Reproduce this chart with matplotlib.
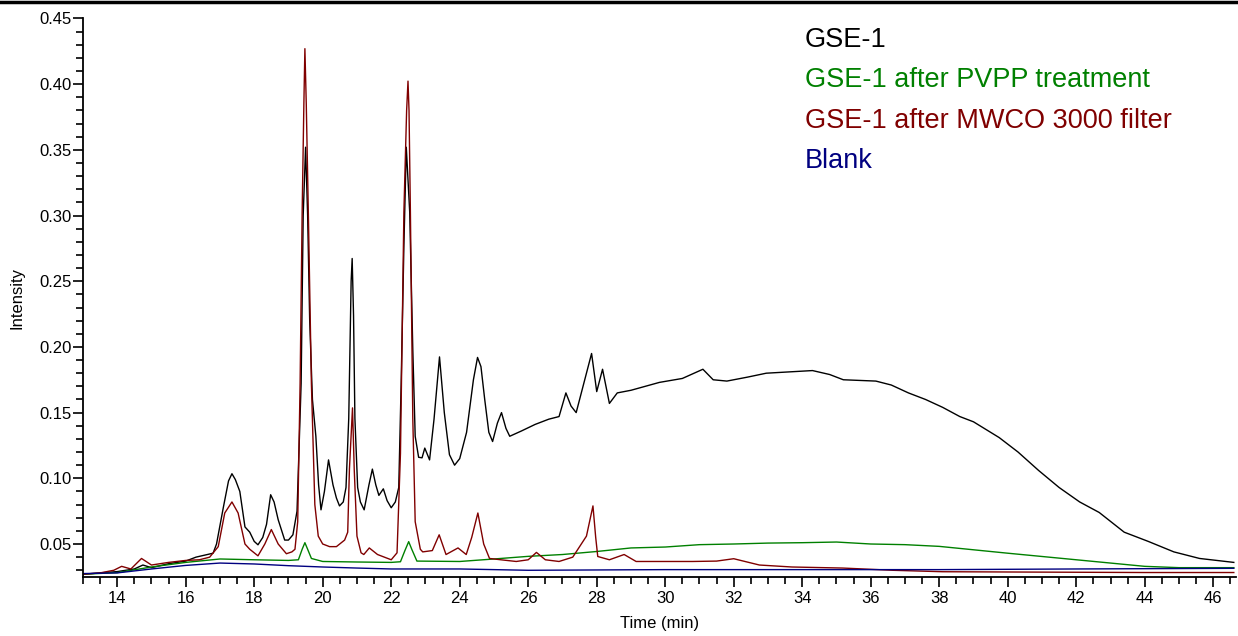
import matplotlib.pyplot as plt
from matplotlib.lines import Line2D
from matplotlib.ticker import MultipleLocator

plt.rcParams['font.family'] = ['Liberation Sans', 'DejaVu Sans']

# GSE-1 (black)
gse_t = [13.0, 13.5, 14.0, 14.5, 14.75, 15.0, 15.5, 16.0, 16.3, 16.8, 16.9, 17.1, 17.25, 17.35, 17.45,
         17.58, 17.73, 17.87, 18.0, 18.11, 18.25, 18.36, 18.48, 18.58, 18.7, 18.89, 19.0, 19.13, 19.25,
         19.37, 19.43, 19.5, 19.56, 19.62, 19.7, 19.8, 19.88, 19.95, 20.05, 20.17, 20.3, 20.4, 20.49,
         20.6, 20.68, 20.76, 20.83, 20.86, 20.9, 20.94, 21.02, 21.1, 21.21, 21.35, 21.45, 21.55, 21.64,
         21.77, 21.88, 22.0, 22.12, 22.22, 22.29, 22.37, 22.44, 22.54, 22.63, 22.7, 22.75, 22.8, 22.9,
         22.98, 23.12, 23.25, 23.41, 23.55, 23.7, 23.85, 24.0, 24.2, 24.4, 24.52, 24.62, 24.73, 24.85,
         24.96, 25.1, 25.22, 25.35, 25.46, 25.8, 26.2, 26.6, 26.9, 27.1, 27.25, 27.4, 27.6, 27.85, 28.0,
         28.17, 28.37, 28.6, 29.0, 29.83, 30.5, 31.1, 31.4, 31.8, 32.4, 32.95, 33.6, 34.3, 34.8, 35.2,
         36.15, 36.6, 37.1, 37.6, 38.1, 38.6, 39.0, 39.75, 40.3, 40.9, 41.5, 42.1, 42.67, 42.96, 43.4,
         44.1, 44.85, 45.6, 46.6]
gse_v = [0.027, 0.028, 0.029, 0.031, 0.034, 0.032, 0.035, 0.037, 0.040, 0.043, 0.050, 0.078, 0.098, 0.1035, 0.099,
         0.090, 0.063, 0.059, 0.052, 0.0494, 0.055, 0.065, 0.0875, 0.082, 0.0685, 0.053, 0.053, 0.057, 0.075,
         0.172, 0.30, 0.352, 0.30, 0.22, 0.16, 0.132, 0.095, 0.076, 0.09, 0.114, 0.095, 0.085, 0.079,
         0.082, 0.093, 0.1456, 0.25, 0.2673, 0.224, 0.1456, 0.093, 0.082, 0.076, 0.095, 0.107, 0.095, 0.087,
         0.092, 0.083, 0.0776, 0.082, 0.093, 0.172, 0.2765, 0.352, 0.3026, 0.198, 0.132, 0.124, 0.116, 0.1156,
         0.123, 0.114, 0.145, 0.1924, 0.15, 0.118, 0.110, 0.115, 0.135, 0.175, 0.192, 0.185, 0.16, 0.135,
         0.128, 0.142, 0.150, 0.138, 0.132, 0.136, 0.141, 0.145, 0.147, 0.165, 0.155, 0.150, 0.17, 0.195, 0.166,
         0.183, 0.157, 0.165, 0.167, 0.173, 0.176, 0.183, 0.175, 0.174, 0.177, 0.180, 0.181, 0.182, 0.179, 0.175,
         0.174, 0.171, 0.165, 0.160, 0.154, 0.147, 0.143, 0.131, 0.120, 0.106, 0.093, 0.082, 0.074, 0.068, 0.059,
         0.052, 0.044, 0.039, 0.036]

# GSE-1 after PVPP treatment (green)
pvpp_t = [13.0, 14.0, 15.0, 16.0, 17.0, 18.0, 19.0, 19.29, 19.4, 19.48, 19.56, 19.67, 20.0, 21.0, 22.0,
          22.27, 22.4, 22.51, 22.6, 22.75, 24.0, 25.0, 26.0, 27.0, 28.0, 29.0, 30.0, 31.0, 32.0, 33.0,
          34.0, 35.0, 36.0, 37.0, 38.0, 40.0, 42.0, 43.0, 44.0, 45.0, 46.6]
pvpp_v = [0.027, 0.0282, 0.0325, 0.036, 0.0386, 0.038, 0.0375, 0.038, 0.046, 0.051, 0.046, 0.039, 0.0367, 0.0363, 0.036,
          0.0365, 0.045, 0.0518, 0.046, 0.037, 0.0367, 0.0386, 0.0406, 0.042, 0.0443, 0.047, 0.0477, 0.0495, 0.050, 0.0507,
          0.051, 0.0515, 0.050, 0.0495, 0.0482, 0.043, 0.038, 0.0355, 0.033, 0.032, 0.032]

# GSE-1 after MWCO 3000 filter (dark red)
mwco_t = [13.0, 13.5, 13.9, 14.13, 14.4, 14.71, 15.0, 15.5, 16.0, 16.4, 16.7, 16.95, 17.14, 17.35, 17.53,
          17.73, 17.87, 18.11, 18.31, 18.5, 18.7, 18.94, 19.1, 19.19, 19.27, 19.34, 19.4, 19.45, 19.48,
          19.52, 19.58, 19.67, 19.77, 19.87, 20.0, 20.2, 20.4, 20.64, 20.73, 20.78, 20.87, 20.92, 21.0,
          21.12, 21.2, 21.36, 21.6, 22.0, 22.17, 22.27, 22.37, 22.45, 22.49, 22.52, 22.56, 22.63, 22.7,
          22.85, 22.92, 23.2, 23.4, 23.6, 23.95, 24.19, 24.35, 24.53, 24.7, 24.87, 25.2, 25.65, 26.0,
          26.24, 26.5, 26.9, 27.3, 27.7, 27.89, 27.97, 28.03, 28.37, 28.8, 29.15, 29.83, 30.8, 31.5,
          32.0, 32.75, 33.7, 35.18, 36.64, 38.1, 40.0, 42.0, 44.0, 46.6]
mwco_v = [0.027, 0.028, 0.030, 0.033, 0.031, 0.039, 0.034, 0.036, 0.0375, 0.038, 0.040, 0.048, 0.0736, 0.082, 0.0736,
          0.050, 0.046, 0.041, 0.050, 0.061, 0.050, 0.0426, 0.044, 0.046, 0.067, 0.172, 0.3026, 0.385, 0.427,
          0.385, 0.3026, 0.172, 0.080, 0.056, 0.050, 0.048, 0.048, 0.053, 0.059, 0.107, 0.1536, 0.107, 0.056,
          0.0433, 0.042, 0.047, 0.042, 0.038, 0.0433, 0.119, 0.3026, 0.38, 0.4023, 0.38, 0.3026, 0.1456, 0.067,
          0.046, 0.044, 0.045, 0.057, 0.042, 0.047, 0.042, 0.055, 0.0736, 0.050, 0.039, 0.038, 0.0367, 0.038,
          0.0436, 0.038, 0.0367, 0.040, 0.056, 0.079, 0.055, 0.0405, 0.038, 0.042, 0.0367, 0.0367, 0.0367, 0.037,
          0.0388, 0.034, 0.0325, 0.0317, 0.030, 0.0289, 0.0287, 0.0285, 0.0283, 0.0283]

# Blank (navy)
blank_t = [13.0, 14.0, 15.0, 16.0, 17.0, 18.0, 19.0, 20.0, 21.0, 22.0, 24.0, 26.0, 30.0, 34.0, 38.0, 42.0, 46.6]
blank_v = [0.0275, 0.028, 0.031, 0.0337, 0.0355, 0.0348, 0.0335, 0.0325, 0.0317, 0.031, 0.031, 0.030, 0.0305,
           0.0305, 0.0305, 0.031, 0.0315]

labels = ['GSE-1', 'GSE-1 after PVPP treatment', 'GSE-1 after MWCO 3000 filter', 'Blank']
colors = ['black', '#008000', '#800000', '#000080']

fig = plt.figure(figsize=(12.38, 6.36), dpi=100)
ax = fig.add_axes([0.067, 0.093, 0.931, 0.878])

ax.plot(gse_t, gse_v, color=colors[0], lw=1.0)
ax.plot(pvpp_t, pvpp_v, color=colors[1], lw=1.0)
ax.plot(mwco_t, mwco_v, color=colors[2], lw=1.0)
ax.plot(blank_t, blank_v, color=colors[3], lw=1.0)

ax.set_xlim(13, 46.65)
ax.set_ylim(0.025, 0.45)
ax.xaxis.set_major_locator(MultipleLocator(2))
ax.xaxis.set_minor_locator(MultipleLocator(0.5))
ax.yaxis.set_minor_locator(MultipleLocator(0.01))
ax.set_yticks([0.05, 0.10, 0.15, 0.20, 0.25, 0.30, 0.35, 0.40, 0.45])
ax.set_yticklabels(['0.05', '0.10', '0.15', '0.20', '0.25', '0.30', '0.35', '0.40', '0.45'])

for s in ['top', 'right']:
    ax.spines[s].set_visible(False)
for s in ['left', 'bottom']:
    ax.spines[s].set_linewidth(1.3)

ax.tick_params(axis='both', which='major', direction='out', length=7.5, width=1.2, labelsize=12)
ax.tick_params(axis='both', which='minor', direction='out', length=5, width=1.2)
ax.tick_params(axis='y', which='major', pad=0.5)
ax.tick_params(axis='x', which='major', pad=3)

ax.set_xlabel('Time (min)', fontsize=12, labelpad=7)
ax.set_ylabel('Intensity', fontsize=12, labelpad=11)

# legend as coloured text
ys = [0.926, 0.863, 0.799, 0.736]
for lab, c, y in zip(labels, colors, ys):
    fig.text(0.650, y, lab, color=c, fontsize=19.5, va='baseline')

# line across the top of the figure
fig.add_artist(Line2D([0, 1], [0.9975, 0.9975], color='black', lw=2.5, transform=fig.transFigure))

fig.savefig('out.png', dpi=100)
